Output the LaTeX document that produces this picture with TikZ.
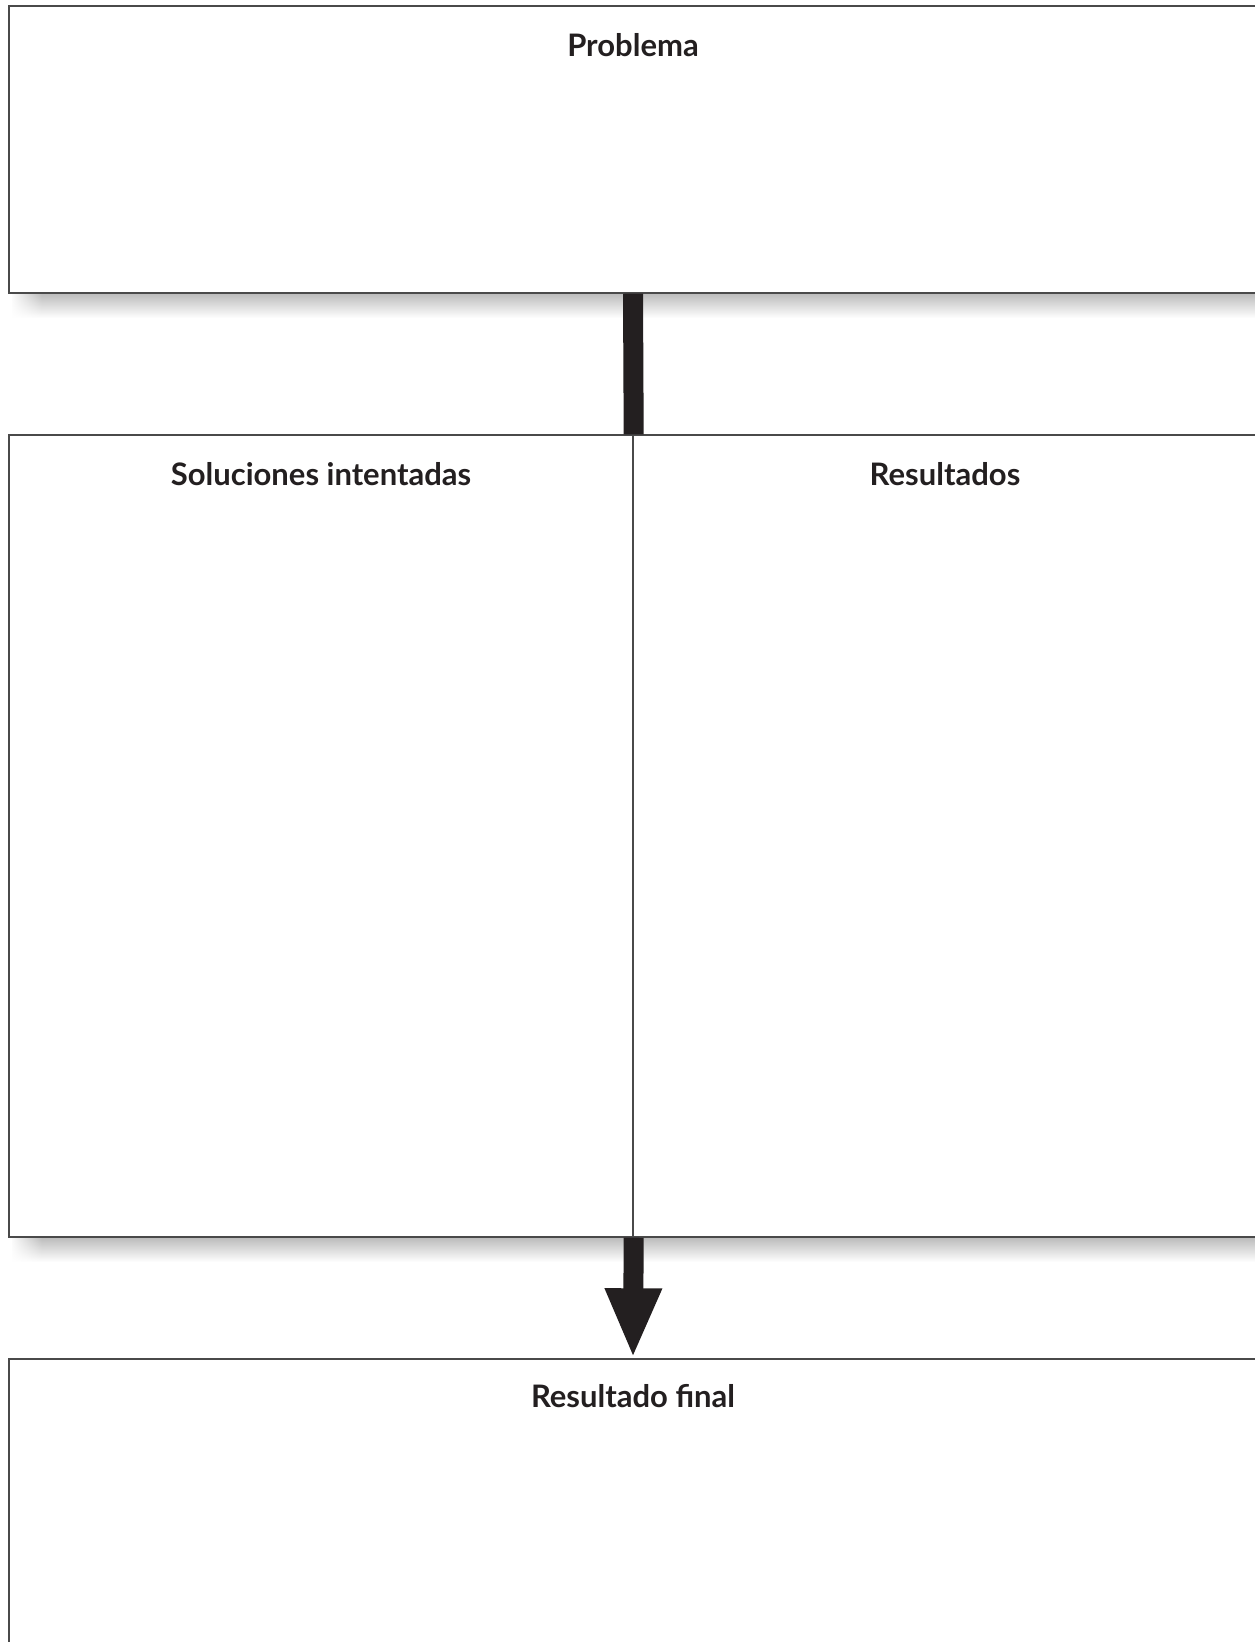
\documentclass[tikz,border=0pt]{standalone}
\usepackage{fontspec}
\setmainfont{Lato}
\usetikzlibrary{arrows.meta,fadings}
\definecolor{ink}{HTML}{231F20}
\definecolor{frame}{HTML}{4A4A4A}
\begin{document}
\begin{tikzpicture}[x=1pt,y=-1pt,
  panel/.style={draw=frame,line width=1.4pt,fill=white,rectangle,inner sep=0pt},
  title/.style={anchor=base,font=\bfseries\fontsize{31}{36}\selectfont,text=ink,inner sep=0pt},
  dropshade/.style={top color=black!27,bottom color=white,draw=none},
  bar/.style={draw=ink,line width=20pt}]
\useasboundingbox[fill=white] (0,0) rectangle (1255,1642);

% soft shadows under the panels, fading in at their left ends
\shade[dropshade] (12,293) rectangle (1255,318);
\fill[white,path fading=east] (10,293) rectangle (42,320);
\shade[dropshade] (12,1237) rectangle (1255,1262);
\fill[white,path fading=east] (10,1237) rectangle (42,1264);

% panels
\node[panel,minimum width=1248pt,minimum height=287pt] (prob) at (633,149.5) {};
\node[panel,minimum width=624pt,minimum height=802pt] (sol) at (321,836) {};
\node[panel,minimum width=624pt,minimum height=802pt] (res) at (945,836) {};
\node[panel,minimum width=1248pt,minimum height=320pt] (fin) at (633,1519) {};

% titles
\node[title] (tprob) at (633,56) {Problema};
\node[title] (tsol) at (321,485) {Soluciones intentadas};
\node[title] (tres) at (945,485) {Resultados};
\node[title] (tfin) at (633,1407) {Resultado final};

% connectors
\draw[bar] (prob.south) -- (sol.north east);
\draw[bar,-{Triangle[width=52pt,length=70pt]}] (sol.south east) -- (fin.north);
\end{tikzpicture}
\end{document}
